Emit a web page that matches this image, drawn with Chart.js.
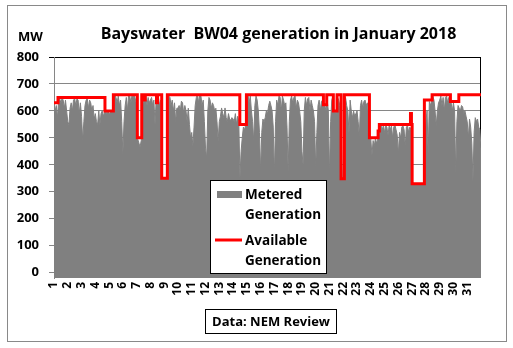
<!DOCTYPE html>
<html>
<head>
<meta charset="utf-8">
<script src="https://cdn.jsdelivr.net/npm/chart.js@4.4.1/dist/chart.umd.min.js"></script>
<style>
html,body{margin:0;padding:0;background:#fff;}
canvas{display:block;}
</style>
</head>
<body>
<canvas id="c" width="513" height="348"></canvas>
<script>
// ---- text ----
const chartTitle = 'Bayswater  BW04 generation in January 2018';
const yAxisTitle = 'MW';
const sourceNote = 'Data: NEM Review';
const meteredLegend = ['Metered', 'Generation'];
const availableLegend = ['Available', 'Generation'];

// ---- axes ----
const dayLabels = [1,2,3,4,5,6,7,8,9,10,11,12,13,14,15,16,17,18,19,20,21,22,23,24,25,26,27,28,29,30,31];
const yTicks = [0,100,200,300,400,500,600,700,800];

// ---- metered generation (MW), 12 readings per day (every 2 hours), plus end of month ----
const samplesPerDay = 12;
const metered = [
  625,600,620,575,635,645,630,648,640,610,640,600,   // 1
  560,549,610,630,600,640,645,620,645,640,590,630,   // 2
  580,490,560,620,640,645,610,640,630,600,620,570,   // 3
  590,560,549,600,549,590,600,580,596,600,590,598,   // 4
  590,595,598,600,640,660,650,630,655,620,640,560,   // 5
  440,560,620,650,600,660,655,630,660,650,660,640,   // 6
  620,495,480,466,490,600,650,640,660,620,650,630,   // 7
  640,650,620,640,549,640,611,650,620,640,350,345,   // 8
  345,348,340,600,655,650,620,640,600,630,560,610,   // 9
  610,620,600,636,630,590,620,600,560,610,550,500,   // 10
  520,470,540,620,650,661,630,660,655,620,640,560,   // 11
  462,425,600,650,640,610,630,620,600,610,560,487,   // 12
  560,580,611,590,575,611,575,560,590,570,565,575,   // 13
  570,560,590,550,580,560,352,450,500,540,530,548,   // 14
  640,661,630,655,600,560,487,620,655,640,600,520,   // 15
  376,520,570,560,575,600,590,620,636,620,600,540,   // 16
  363,560,640,620,655,650,600,655,640,620,630,540,   // 17
  376,560,640,655,630,650,655,610,640,630,600,560,   // 18
  450,400,600,650,620,645,650,600,640,620,600,560,   // 19
  388,520,620,640,600,635,640,615,620,600,640,600,   // 20
  363,560,640,655,595,598,590,650,640,620,600,345,   // 21
  345,560,650,620,600,517,640,600,575,600,580,590,   // 22
  600,560,505,620,640,610,635,640,620,630,580,500,   // 23
  495,435,490,470,498,480,495,520,540,545,530,548,   // 24
  520,545,540,510,548,530,545,500,540,548,530,510,   // 25
  440,520,500,540,545,530,470,540,545,520,540,530,   // 26
  330,328,330,325,330,330,328,330,326,330,330,500,   // 27
  560,600,440,635,620,638,655,640,600,545,600,630,   // 28
  640,655,620,650,600,650,655,630,650,640,630,600,   // 29
  630,600,370,560,620,610,600,620,615,590,600,580,   // 30
  560,500,570,540,480,340,520,575,560,570,540,530,   // 31
  460
];

// ---- available generation (MW): value holds from each day-time until the next ----
const availDays = [1,1.29,4.7,5.31,7.05,7.37,7.55,7.62,8.44,8.52,8.82,9.23,14.49,14.97,20.56,20.8,21.28,21.55,21.84,22.08,23.9,24.53,24.62,26.88,26.95,27.0,27.89,28.45,29.78,30.39,32];
const availMW   = [630,650,600,660,500,660,640,660,630,660,350,660,550,660,623,660,600,660,348,660,500,525,550,590,550,330,640,660,635,660,660];

const GREY = '#808080';
const RED = '#ff0000';
const FONT = '"Open Sans"';

const meteredPoints = metered.map((v, i) => ({ x: 1 + i / samplesPerDay, y: v }));
const availPoints = availDays.map((d, i) => ({ x: d, y: availMW[i] }));

const decor = {
  id: 'decor',
  beforeDatasetsDraw(chart) {
    const { ctx, chartArea: a } = chart;
    ctx.save();
    ctx.strokeStyle = '#000';
    ctx.lineWidth = 1;
    ctx.beginPath();
    ctx.moveTo(a.right - 0.5, a.top);
    ctx.lineTo(a.right - 0.5, a.bottom);
    ctx.stroke();
    ctx.restore();
  },
  afterDraw(chart) {
    const ctx = chart.ctx;
    ctx.save();
    // outer frame
    ctx.strokeStyle = '#898989';
    ctx.lineWidth = 1;
    ctx.strokeRect(7.5, 5.5, 499, 336);

    ctx.fillStyle = '#000';
    ctx.textBaseline = 'alphabetic';
    // title
    ctx.font = 'bold 16px ' + FONT;
    ctx.textAlign = 'center';
    ctx.fillText(chartTitle, 278.5, 39);
    // y axis unit
    ctx.font = 'bold 13px ' + FONT;
    ctx.textAlign = 'left';
    ctx.fillText(yAxisTitle, 18, 41);

    // legend box
    ctx.fillStyle = '#fff';
    ctx.fillRect(210.5, 180.5, 116, 93);
    ctx.strokeStyle = '#000';
    ctx.strokeRect(210.5, 180.5, 116, 93);
    ctx.fillStyle = GREY;
    ctx.fillRect(217, 191, 25, 7);
    ctx.strokeStyle = RED;
    ctx.lineWidth = 3;
    ctx.beginPath();
    ctx.moveTo(215, 240);
    ctx.lineTo(242, 240);
    ctx.stroke();
    ctx.fillStyle = '#000';
    ctx.font = 'bold 13.5px ' + FONT;
    ctx.textAlign = 'left';
    ctx.fillText(meteredLegend[0], 245, 199);
    ctx.fillText(meteredLegend[1], 245, 219);
    ctx.fillText(availableLegend[0], 245, 245);
    ctx.fillText(availableLegend[1], 245, 265);

    // source box
    ctx.lineWidth = 1;
    ctx.strokeStyle = '#000';
    ctx.fillStyle = '#fff';
    ctx.fillRect(205.5, 309.5, 131, 24);
    ctx.strokeRect(205.5, 309.5, 131, 24);
    ctx.fillStyle = '#000';
    ctx.font = 'bold 13px ' + FONT;
    ctx.textAlign = 'center';
    ctx.fillText(sourceNote, 271, 326);
    ctx.restore();
  }
};

function draw() {
  new Chart(document.getElementById('c'), {
    type: 'line',
    data: {
      datasets: [
        {
          label: availableLegend.join(' '),
          data: availPoints,
          borderColor: RED,
          borderWidth: 3,
          stepped: true,
          pointRadius: 0,
          fill: false,
          order: 0
        },
        {
          label: meteredLegend.join(' '),
          data: meteredPoints,
          borderColor: GREY,
          backgroundColor: GREY,
          borderWidth: 1,
          pointRadius: 0,
          tension: 0,
          fill: 'start',
          order: 1
        }
      ]
    },
    options: {
      responsive: false,
      animation: false,
      devicePixelRatio: 1,
      layout: { padding: { top: 57, right: 32, left: 0, bottom: 0 } },
      plugins: {
        legend: { display: false },
        tooltip: { enabled: false },
        title: { display: false }
      },
      scales: {
        x: {
          type: 'linear',
          min: 1,
          max: 32,
          afterBuildTicks: (s) => { s.ticks = dayLabels.map(d => ({ value: d })); },
          afterFit: (s) => { s.height = 70; },
          grid: { display: false, drawTicks: false, tickLength: 0 },
          border: { display: false },
          ticks: {
            autoSkip: false,
            minRotation: 90,
            maxRotation: 90,
            padding: 4,
            color: '#000',
            font: { family: 'Open Sans', weight: 'bold', size: 12 },
            callback: (v) => String(v)
          }
        },
        y: {
          min: -20,
          max: 800,
          afterBuildTicks: (s) => { s.ticks = yTicks.map(v => ({ value: v })); },
          afterFit: (s) => { s.width = 54; },
          grid: {
            color: (c) => (c.tick && c.tick.value === 800 ? '#000' : '#868686'),
            tickLength: 5,
            drawTicks: true
          },
          border: { display: true, color: '#868686' },
          ticks: {
            padding: 10,
            color: '#000',
            font: { family: 'Open Sans', weight: 'bold', size: 13 },
            callback: (v) => String(v)
          }
        }
      }
    },
    plugins: [decor]
  });
}

const fontLoads = [
  'bold 16px "Open Sans"', 'bold 13px "Open Sans"', 'bold 12px "Open Sans"'
].map(f => document.fonts.load(f));
Promise.all(fontLoads).then(draw, draw);
</script>
</body>
</html>
